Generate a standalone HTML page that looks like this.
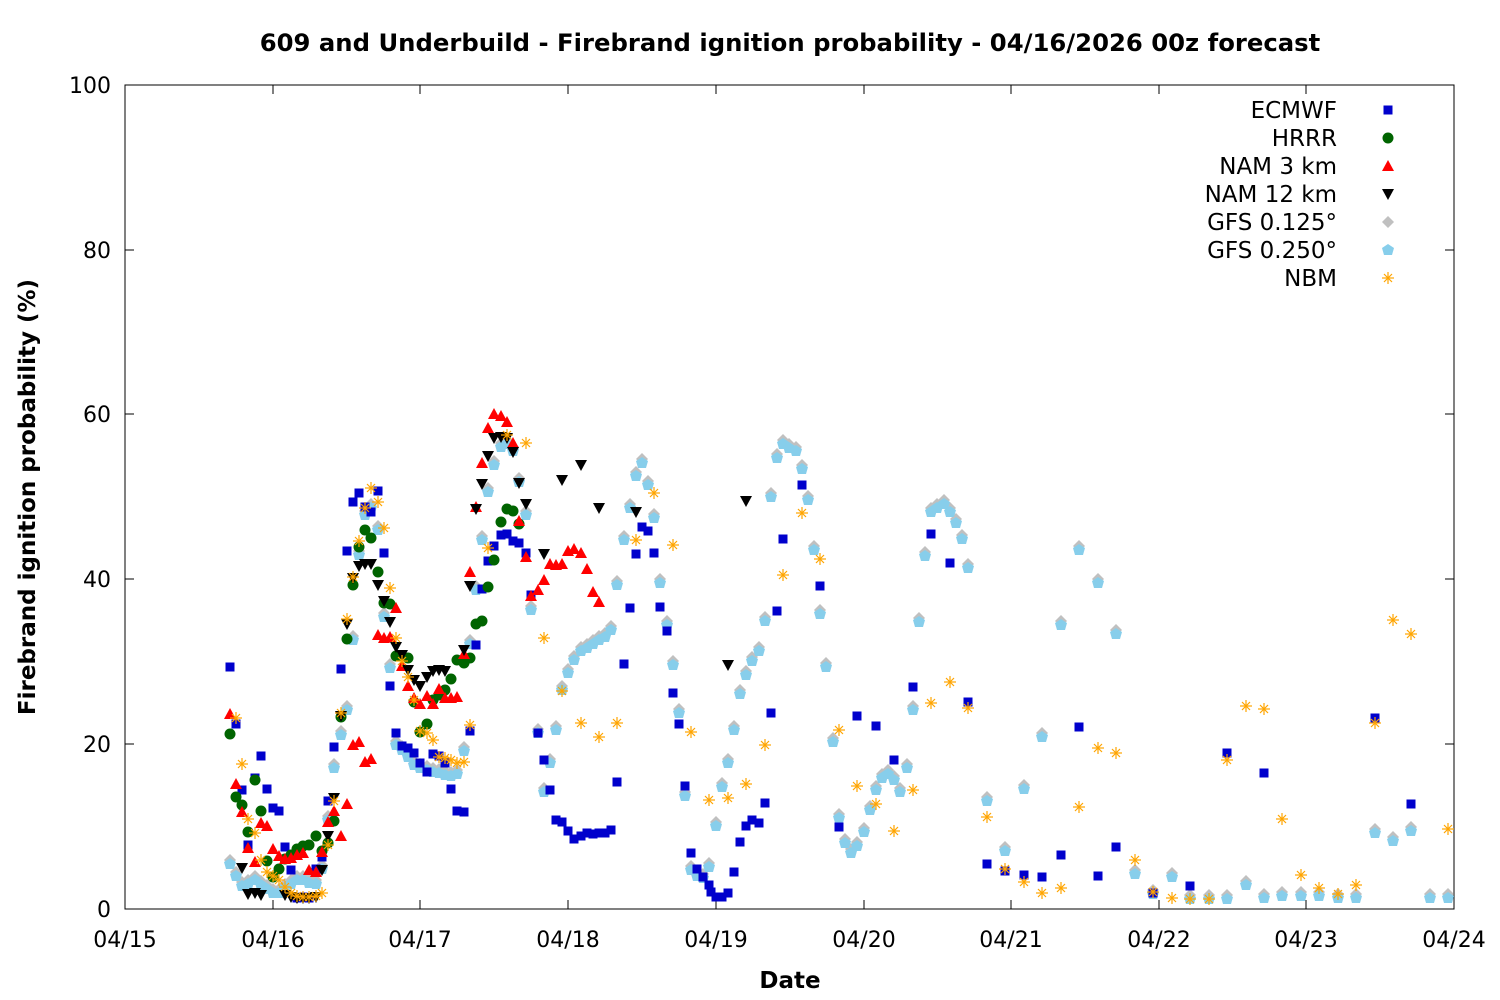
<!DOCTYPE html><html><head><meta charset="utf-8"><style>body{margin:0;background:#fff}svg{display:block;font-family:"DejaVu Sans","Liberation Sans",sans-serif}</style></head><body>
<svg id="s" width="1500" height="1000" xmlns="http://www.w3.org/2000/svg">
<rect width="1500" height="1000" fill="#fff"/>
<text x="790" y="51" text-anchor="middle" font-size="24.3" font-weight="bold">609 and Underbuild - Firebrand ignition probability - 04/16/2026 00z forecast</text>
<rect x="125" y="85" width="1329" height="824" fill="none" stroke="#000" stroke-width="1"/>
<g font-size="22" text-anchor="end">
<text x="111" y="917">0</text><text x="111" y="752">20</text><text x="111" y="587">40</text><text x="111" y="422">60</text><text x="111" y="258">80</text><text x="111" y="93">100</text></g>
<g font-size="22" text-anchor="middle">
<text x="125" y="947">04/15</text><text x="273" y="947">04/16</text><text x="420" y="947">04/17</text><text x="568" y="947">04/18</text><text x="716" y="947">04/19</text><text x="864" y="947">04/20</text><text x="1011" y="947">04/21</text><text x="1159" y="947">04/22</text><text x="1306" y="947">04/23</text><text x="1454" y="947">04/24</text></g>
<text x="790" y="988" text-anchor="middle" font-size="23" font-weight="bold">Date</text>
<text transform="translate(35,497) rotate(-90)" text-anchor="middle" font-size="23" font-weight="bold">Firebrand ignition probability (%)</text>
<g id="ticks" stroke="#000"></g>
<g font-size="23" text-anchor="end">
<text x="1337" y="118">ECMWF</text><text x="1337" y="146">HRRR</text><text x="1337" y="174">NAM 3 km</text><text x="1337" y="202">NAM 12 km</text><text x="1337" y="230">GFS 0.125°</text><text x="1337" y="258">GFS 0.250°</text><text x="1337" y="286">NBM</text></g>
<g id="pts"></g>
</svg>
<script>
var NS="http://www.w3.org/2000/svg",P=document.getElementById('pts'),T=document.getElementById('ticks');
function el(n,a,p){var e=document.createElementNS(NS,n);for(var k in a)e.setAttribute(k,a[k]);(p||P).appendChild(e);return e}
var tk=[125,273,420,568,716,864,1011,1159,1306,1454];
tk.forEach(function(x){el('line',{x1:x,y1:909,x2:x,y2:900},T);el('line',{x1:x,y1:85,x2:x,y2:94},T)});
[909,744,579,414,250,85].forEach(function(y){el('line',{x1:125,y1:y,x2:134,y2:y},T);el('line',{x1:1454,y1:y,x2:1445,y2:y},T)});
function sym(t,x,y){
 if(t==0)el('rect',{x:x-4.5,y:y-4.5,width:9,height:9,fill:'#0000cc'});
 else if(t==1)el('circle',{cx:x,cy:y,r:5.5,fill:'#006400'});
 else if(t==2)el('polygon',{points:(x-6)+','+(y+5)+' '+(x+6)+','+(y+5)+' '+x+','+(y-6),fill:'#ff0000'});
 else if(t==3)el('polygon',{points:(x-6)+','+(y-5)+' '+(x+6)+','+(y-5)+' '+x+','+(y+6),fill:'#000'});
 else if(t==4)el('polygon',{points:x+','+(y-6)+' '+(x+6)+','+y+' '+x+','+(y+6)+' '+(x-6)+','+y,fill:'#c0c0c0'});
 else if(t==5)el('polygon',{points:x+','+(y-6)+' '+(x+6)+','+(y-2)+' '+(x+4)+','+(y+5)+' '+(x-4)+','+(y+5)+' '+(x-6)+','+(y-2),fill:'#87ceeb'});
 else {var g=el('g',{stroke:'#ffa500','stroke-width':1.2});[[0,6],[6,0],[4,4],[4,-4]].forEach(function(d){el('line',{x1:x-d[0],y1:y-d[1],x2:x+d[0],y2:y+d[1]},g)})}
}
function S(t,s){var a=s.split(' ');for(var i=0;i<a.length;i++){var q=a[i].split(',');sym(t,+q[0],+q[1])}}
var G="230,864 236,876 242,886 248,884 255,880 261,885 267,889 273,893 279,893 285,888 291,884 297,880 303,880 309,883 316,884 322,869 328,820 334,768 341,735 347,710 353,640 359,555 365,515 371,508 378,530 384,617 390,668 396,745 402,750 408,757 414,765 420,768 427,770 433,772 439,773 445,775 451,776 457,774 464,751 470,644 476,590 482,540 488,492 494,465 501,447 507,444 513,451 519,482 526,515 531,610 538,733 544,792 550,763 556,730 562,690 568,673 574,660 581,651 587,648 593,644 599,640 605,637 611,630 617,585 624,540 630,508 636,476 642,463 648,485 654,518 660,583 667,625 673,665 679,713 685,796 691,870 697,876 703,878 709,867 716,826 722,787 728,763 734,730 740,694 746,675 752,661 759,651 765,621 771,497 777,458 783,444 789,448 796,451 802,469 808,500 814,550 820,614 826,667 833,742 839,818 845,843 851,853 857,846 864,832 870,810 876,790 882,778 888,774 894,780 900,792 907,768 913,710 919,622 925,556 931,512 937,508 944,504 950,512 956,523 962,539 968,568 987,801 1005,851 1024,789 1042,737 1061,625 1079,550 1098,583 1116,634 1135,874 1153,894 1172,877 1190,899 1209,899 1227,899 1246,885 1264,898 1282,896 1301,896 1319,896 1338,898 1356,898 1375,833 1393,841 1411,831 1430,898 1448,898";
S(4,G.split(' ').map(function(p){var q=p.split(',');return q[0]+','+(+q[1]-4)}).join(' '));
S(5,G);
S(0,"230,667 236,724 242,790 248,845 255,778 261,756 267,789 273,808 279,811 285,847 291,870 297,898 303,897 309,898 316,869 322,857 328,801 334,747 341,669 347,551 353,502 359,493 365,507 371,512 378,491 384,553 390,686 396,733 402,746 408,748 414,753 420,763 427,772 433,754 439,756 445,763 451,789 457,811 464,812 470,731 476,645 482,589 488,561 494,546 501,535 507,534 513,541 519,543 526,553 531,595 538,733 544,760 550,790 556,820 562,822 568,831 574,839 581,836 587,833 593,834 599,833 605,833 611,830 617,782 624,664 630,608 636,554 642,527 648,531 654,553 660,607 667,631 673,693 679,724 685,786 691,853 697,869 703,877 709,885 711,892 716,897 722,897 728,893 734,872 740,842 746,826 752,820 759,823 765,803 771,713 777,611 783,539 802,485 820,586 839,827 857,716 876,726 894,760 913,687 931,534 950,563 968,702 987,864 1005,871 1024,875 1042,877 1061,855 1079,727 1098,876 1116,847 1153,893 1190,886 1227,753 1264,773 1375,718 1411,804");
S(1,"230,734 236,797 242,805 248,832 255,780 261,811 267,861 273,877 279,869 285,859 291,855 297,849 303,846 309,845 316,836 322,851 328,843 334,821 341,717 347,639 353,585 359,547 365,530 371,538 378,572 384,603 390,604 396,656 402,656 408,658 414,702 420,732 427,724 433,700 439,695 445,690 451,679 457,660 464,663 470,658 476,624 482,621 488,587 494,560 501,522 507,509 513,511 519,524");
S(2,"230,714 236,784 242,812 248,848 255,862 261,823 267,826 273,849 279,856 285,859 291,858 297,855 303,853 309,870 316,872 322,852 328,822 334,811 341,836 347,804 353,745 359,742 365,762 371,759 378,635 384,638 390,637 396,608 402,666 408,686 414,698 420,704 427,696 433,704 439,689 445,698 451,698 457,697 464,654 470,572 476,507 482,463 488,428 494,414 501,416 507,422 513,443 519,521 526,557 531,596 538,590 544,580 550,564 556,565 562,564 568,551 574,549 581,553 587,569 593,592 599,602");
S(3,"242,868 248,894 255,893 261,895 285,895 291,897 297,898 303,898 309,898 316,897 322,870 328,836 334,798 341,716 347,624 353,578 359,566 365,564 371,564 378,585 384,601 390,622 396,647 402,655 408,670 414,680 420,686 427,677 433,671 439,670 445,671 464,650 470,586 476,509 482,484 488,456 494,438 501,437 507,438 513,452 519,483 526,504 544,554 562,480 581,465 599,508 636,512 728,665 746,501");
S(6,"236,718 242,764 248,819 255,833 261,860 267,872 273,876 279,880 285,887 291,893 297,896 303,897 309,897 316,896 322,893 328,845 334,801 341,713 347,619 353,577 359,541 365,508 371,488 378,502 384,528 390,588 396,638 402,661 408,677 414,700 420,731 427,733 433,740 439,757 445,758 451,760 457,763 464,762 470,725 488,548 507,435 526,443 544,638 562,691 581,723 599,737 617,723 636,540 654,493 673,545 691,732 709,800 728,798 746,784 765,745 783,575 802,513 820,559 839,730 857,786 876,804 894,831 913,790 931,703 950,682 968,708 987,817 1005,869 1024,882 1042,893 1061,888 1079,807 1098,748 1116,753 1135,860 1153,892 1172,898 1190,899 1209,899 1227,760 1246,706 1264,709 1282,819 1301,875 1319,888 1338,894 1356,885 1375,723 1393,620 1411,634 1448,829");
for(var i=0;i<7;i++)sym(i,1388,110+28*i);
</script>
</body></html>
